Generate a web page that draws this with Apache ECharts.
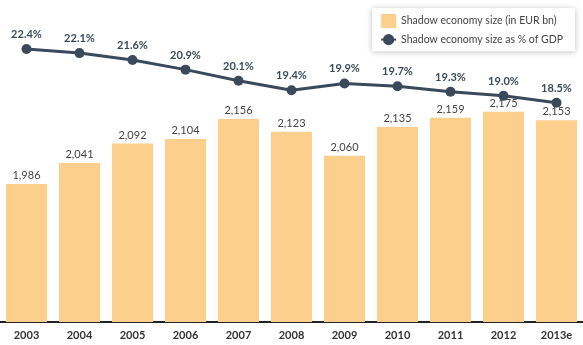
<!DOCTYPE html>
<html>
<head>
<meta charset="utf-8">
<script src="https://cdn.jsdelivr.net/npm/echarts@6/dist/echarts.min.js"></script>
<style>
  html, body { margin: 0; padding: 0; background: #fff; }
  #chart { width: 583px; height: 345px; }
</style>
</head>
<body>
<div id="chart"></div>
<script>
// years on the x axis
const years = ["2003", "2004", "2005", "2006", "2007", "2008", "2009", "2010", "2011", "2012", "2013e"];
// shadow economy size in EUR bn
const sizeEur = [1986, 2041, 2092, 2104, 2156, 2123, 2060, 2135, 2159, 2175, 2153];
// shadow economy size as % of GDP
const sizePct = [22.4, 22.1, 21.6, 20.9, 20.1, 19.4, 19.9, 19.7, 19.3, 19.0, 18.5];

const chart = echarts.init(document.getElementById("chart"));
const font = "Lato, 'Open Sans', sans-serif";

chart.setOption({
  backgroundColor: "#fff",
  animation: false,
  grid: { left: 0, right: 0, top: 20, bottom: 23 },
  legend: {
    orient: "vertical",
    right: 8,
    top: 8,
    padding: [6, 12, 6, 8],
    itemGap: 6,
    itemWidth: 15,
    itemHeight: 14,
    backgroundColor: "#fff",
    shadowColor: "rgba(0,0,0,0.25)",
    shadowBlur: 6,
    shadowOffsetY: 1,
    textStyle: { fontFamily: font, fontSize: 10.5, color: "#444" },
    data: [
      { name: "Shadow economy size (in EUR bn)", icon: "rect" },
      { name: "Shadow economy size as % of GDP" }
    ]
  },
  xAxis: {
    type: "category",
    data: years,
    axisTick: { show: false },
    axisLine: { lineStyle: { color: "#222", width: 2 } },
    axisLabel: { fontFamily: font, fontSize: 11, fontWeight: "bold", color: "#333", margin: 8 }
  },
  yAxis: [
    { type: "value", min: 1625, max: 2415, show: false },
    { type: "value", min: 2.6, max: 24.5, show: false }
  ],
  series: [
    {
      name: "Shadow economy size (in EUR bn)",
      type: "bar",
      yAxisIndex: 0,
      data: sizeEur,
      barWidth: 41,
      itemStyle: { color: "#fcd08c" },
      label: {
        show: true,
        position: "top",
        distance: 3,
        fontFamily: font,
        fontSize: 11,
        color: "#444",
        formatter: (p) => p.value.toLocaleString("en-US")
      }
    },
    {
      name: "Shadow economy size as % of GDP",
      type: "line",
      yAxisIndex: 1,
      data: sizePct,
      symbol: "circle",
      symbolSize: 10,
      lineStyle: { color: "#3b4a5b", width: 3 },
      itemStyle: { color: "#3b4a5b" },
      label: {
        show: true,
        position: "top",
        distance: 4,
        fontFamily: font,
        fontSize: 11,
        fontWeight: "bold",
        color: "#3b4a5b",
        formatter: (p) => p.value.toFixed(1) + "%"
      }
    }
  ]
});
</script>
</body>
</html>
